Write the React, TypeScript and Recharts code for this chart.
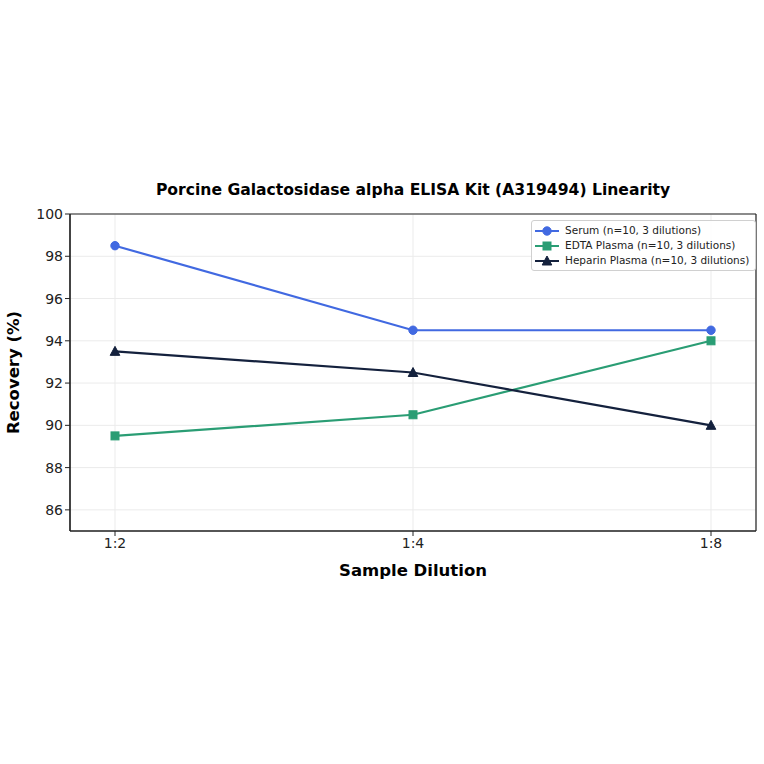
import React from "react";
import { LineChart, Line, XAxis, YAxis, CartesianGrid, Legend } from "recharts";

const dilutions = ["1:2", "1:4", "1:8"];
const serum = [98.5, 94.5, 94.5];
const edta = [89.5, 90.5, 94.0];
const heparin = [93.5, 92.5, 90.0];
const yTicks = [86, 88, 90, 92, 94, 96, 98, 100];

const seriesInfo = [
  { key: "serum", name: "Serum (n=10, 3 dilutions)", color: "#4169E1", shape: "circle" },
  { key: "edta", name: "EDTA Plasma (n=10, 3 dilutions)", color: "#2A9D74", shape: "square" },
  { key: "heparin", name: "Heparin Plasma (n=10, 3 dilutions)", color: "#14213D", shape: "triangle" },
];

const data = dilutions.map((d, i) => ({
  dilution: d,
  serum: serum[i],
  edta: edta[i],
  heparin: heparin[i],
}));

function Marker({ shape, color, cx, cy }: { shape: string; color: string; cx: number; cy: number }) {
  if (shape === "circle") return <circle cx={cx} cy={cy} r={4.2} fill={color} stroke={color} />;
  if (shape === "square") return <rect x={cx - 4} y={cy - 4} width={8} height={8} fill={color} stroke={color} />;
  return (
    <polygon
      points={`${cx},${cy - 5} ${cx - 4.8},${cy + 4} ${cx + 4.8},${cy + 4}`}
      fill={color}
      stroke={color}
    />
  );
}

const makeDot = (shape: string, color: string) => (props: any) => {
  const { cx, cy, index } = props;
  if (cx == null || cy == null) return <g key={index} />;
  return (
    <g key={`${shape}-${index}`}>
      <Marker shape={shape} color={color} cx={cx} cy={cy} />
    </g>
  );
};

const LegendContent = () => (
  <div
    style={{
      border: "1px solid #d0d0d0",
      borderRadius: 3,
      background: "rgba(255,255,255,0.9)",
      padding: "2px 6px 2px 2px",
      fontFamily: "DejaVu Sans",
      fontSize: 10.5,
      color: "#222",
      lineHeight: "15px",
      whiteSpace: "nowrap",
      textAlign: "left",
    }}
  >
    {seriesInfo.map((s) => (
      <div key={s.key} style={{ display: "flex", alignItems: "center", height: 15 }}>
        <svg width={26} height={12} style={{ marginRight: 5 }}>
          <line x1={1} y1={6} x2={25} y2={6} stroke={s.color} strokeWidth={2} />
          <Marker shape={s.shape} color={s.color} cx={13} cy={6} />
        </svg>
        <span>{s.name}</span>
      </div>
    ))}
  </div>
);

const frameH = (p: any) => [p.offset.top, p.offset.top + p.offset.height];
const frameV = (p: any) => [p.offset.left, p.offset.left + p.offset.width];

export default function App() {
  return (
    <div style={{ position: "absolute", left: 0, top: 0, width: 764, height: 764, background: "#fff" }}>
      <div
        style={{
          position: "absolute",
          left: 70,
          width: 686,
          top: 181,
          textAlign: "center",
          fontFamily: "DejaVu Sans",
          fontWeight: "bold",
          fontSize: 15.6,
          color: "#000",
        }}
      >
        Porcine Galactosidase alpha ELISA Kit (A319494) Linearity
      </div>
      <LineChart
        width={764}
        height={764}
        data={data}
        margin={{ top: 214, right: 8, bottom: 173, left: 20 }}
        style={{ fontFamily: "DejaVu Sans" }}
      >
        <CartesianGrid stroke="#ebebeb" strokeWidth={1} vertical={true} horizontal={true} />
        <CartesianGrid
          stroke="#222"
          strokeWidth={1.2}
          horizontalCoordinatesGenerator={frameH}
          verticalCoordinatesGenerator={frameV}
        />
        <XAxis
          dataKey="dilution"
          padding={{ left: 45, right: 45 }}
          height={60}
          stroke="#222"
          tick={{ fill: "#222", fontSize: 14 }}
          tickLine={{ stroke: "#222" }}
          tickSize={5}
          axisLine={{ stroke: "#222", strokeWidth: 1.2 }}
          label={{ value: "Sample Dilution", position: "insideBottom", offset: 15, fontSize: 16.5, fontWeight: "bold", fill: "#000" }}
        />
        <YAxis
          domain={[85, 100]}
          ticks={yTicks}
          width={50}
          allowDataOverflow
          stroke="#222"
          tick={{ fill: "#222", fontSize: 14 }}
          tickLine={{ stroke: "#222" }}
          tickSize={5}
          axisLine={{ stroke: "#222", strokeWidth: 1.2 }}
          label={{ value: "Recovery (%)", angle: -90, position: "insideLeft", offset: -7, textAnchor: "middle", fontSize: 16.5, fontWeight: "bold", fill: "#000" }}
        />
        <Legend
          layout="horizontal"
          verticalAlign="middle"
          align="center"
          content={<LegendContent />}
          wrapperStyle={{ position: "absolute", top: 220, left: 531, width: "auto", height: "auto" }}
        />
        {seriesInfo.map((s) => (
          <Line
            key={s.key}
            type="linear"
            dataKey={s.key}
            name={s.name}
            stroke={s.color}
            strokeWidth={2.2}
            dot={makeDot(s.shape, s.color)}
            activeDot={false}
            isAnimationActive={false}
          />
        ))}
      </LineChart>
    </div>
  );
}
